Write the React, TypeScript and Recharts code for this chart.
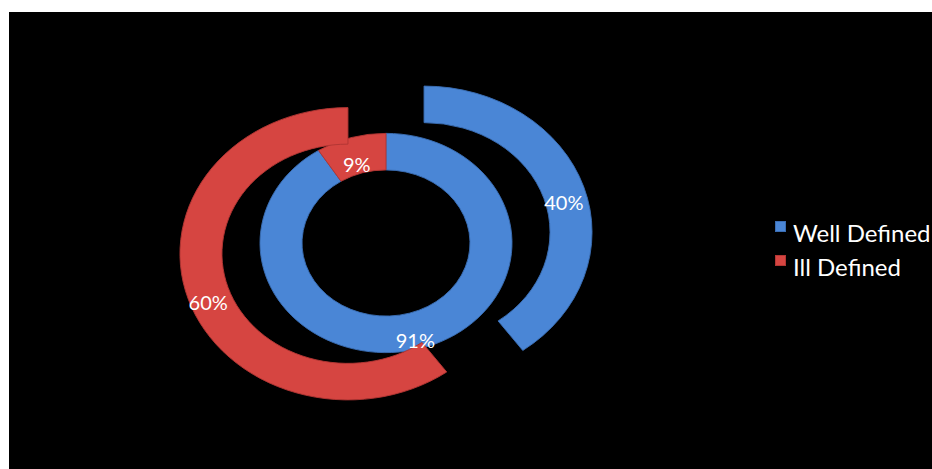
import { PieChart, Pie, Cell } from 'recharts';

const categories = ['Well Defined', 'Ill Defined'];
const innerValues = [91, 9];
const outerValues = [40, 60];
const colors = ['#4A86D6', '#D64541'];
const edgeColors = ['#3A6DB3', '#B13633'];

const innerData = categories.map((name, i) => ({ name, value: innerValues[i] }));
const outerData = categories.map((name, i) => ({ name, value: outerValues[i] }));

// the original picture is squashed vertically, so the pies are drawn round and then scaled
const SQUASH = 0.87;
const CX = 386;
const CY = 243;
const EXPLODE = 40;
const RAD = Math.PI / 180;

const outerTotal = outerValues.reduce((a, b) => a + b, 0);
const offsets = outerValues.map((v, i) => {
  const before = outerValues.slice(0, i).reduce((a, b) => a + b, 0);
  const mid = 90 - ((before + v / 2) / outerTotal) * 360;
  return { dx: EXPLODE * Math.cos(mid * RAD), dy: -EXPLODE * Math.sin(mid * RAD) };
});

const makeLabel = (only?: number) => (props: any) => {
  const { cx, cy, midAngle, innerRadius, outerRadius, value, index } = props;
  if (only !== undefined && index !== only) return null;
  const r = (innerRadius + outerRadius) / 2;
  const x = cx + r * Math.cos(-midAngle * RAD);
  const y = cy + r * Math.sin(-midAngle * RAD);
  return (
    <text
      transform={`translate(${x},${y}) scale(1,${1 / SQUASH})`}
      x={0}
      y={9}
      fill="#fff"
      fontSize={20}
      fontFamily="Lato, sans-serif"
      textAnchor="middle"
      dominantBaseline="central"
    >
      {`${value}%`}
    </text>
  );
};

export default function App() {
  return (
    <div style={{ position: 'absolute', left: 0, top: 0, width: 932, height: 469, background: '#fff', overflow: 'hidden' }}>
      <div style={{ position: 'absolute', left: 9, top: 12, width: 923, height: 457, background: '#000' }} />
      <div style={{ position: 'absolute', left: 0, top: 0, transform: `scaleY(${SQUASH})`, transformOrigin: `0px ${CY}px` }}>
        <PieChart width={932} height={469} margin={{ top: 0, right: 0, bottom: 0, left: 0 }}>
          <Pie
            data={innerData}
            dataKey="value"
            nameKey="name"
            cx={CX}
            cy={CY}
            innerRadius={84}
            outerRadius={126}
            startAngle={90}
            endAngle={-270}
            label={makeLabel()}
            labelLine={false}
            isAnimationActive={false}
          >
            {innerData.map((d, i) => (
              <Cell key={d.name} fill={colors[i]} stroke={edgeColors[i]} strokeWidth={1} />
            ))}
          </Pie>
          {outerData.map((slice, k) => (
            <Pie
              key={slice.name}
              data={outerData}
              dataKey="value"
              nameKey="name"
              cx={CX + offsets[k].dx}
              cy={CY + offsets[k].dy}
              innerRadius={126}
              outerRadius={168}
              startAngle={90}
              endAngle={-270}
              label={makeLabel(k)}
              labelLine={false}
              isAnimationActive={false}
            >
              {outerData.map((d, i) => (
                <Cell
                  key={d.name}
                  fill={i === k ? colors[i] : 'transparent'}
                  stroke={i === k ? edgeColors[i] : 'none'}
                  strokeWidth={1}
                />
              ))}
            </Pie>
          ))}
        </PieChart>
      </div>
      <div style={{ position: 'absolute', left: 775, top: 218, fontFamily: 'Lato, sans-serif', fontSize: 24, color: '#fff' }}>
        {categories.map((name, i) => (
          <div key={name} style={{ display: 'flex', alignItems: 'flex-start', height: 34 }}>
            <span
              style={{
                display: 'inline-block',
                width: 11,
                height: 11,
                marginTop: 3,
                marginRight: 7,
                background: colors[i],
                border: `1px solid ${edgeColors[i]}`,
                boxSizing: 'border-box',
              }}
            />
            <span style={{ lineHeight: '30px', whiteSpace: 'nowrap' }}>{name}</span>
          </div>
        ))}
      </div>
    </div>
  );
}
